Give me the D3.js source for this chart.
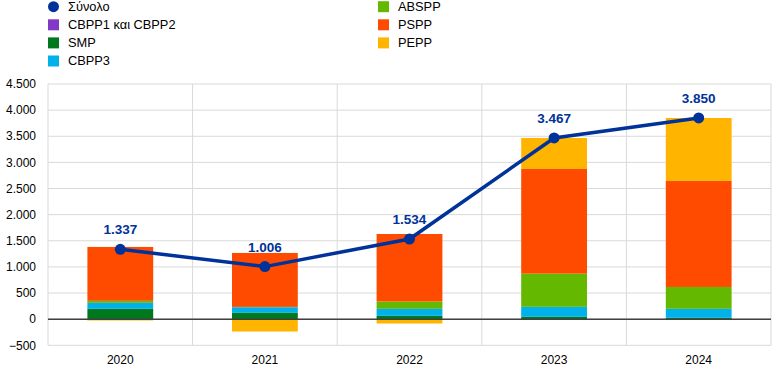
<!DOCTYPE html>
<html><head><meta charset="utf-8">
<script src="https://cdn.jsdelivr.net/npm/d3@7"></script>
<style>body{margin:0;background:#fff}svg{display:block;font-family:Arial,"Liberation Sans",sans-serif}</style>
</head><body><svg id="c" width="782" height="380"></svg>
<script>
const years = ["2020","2021","2022","2023","2024"];
const cbpp12 = [0, 0, 0, 0, 0];
const smp    = [198, 121, 64, 45, 26];
const cbpp3  = [115, 108, 134, 191, 172];
const abspp  = [38, 6, 140, 635, 418];
const pspp   = [1031, 1032, 1292, 2003, 2029];
const pepp   = [-25, -236, -83, 593, 1205];
const total  = [1337, 1006, 1534, 3467, 3850];
const yTicks = [-500, 0, 500, 1000, 1500, 2000, 2500, 3000, 3500, 4000, 4500];

const seriesNames = ["CBPP1 και CBPP2","SMP","CBPP3","ABSPP","PSPP","PEPP"];
const seriesVals = [cbpp12, smp, cbpp3, abspp, pspp, pepp];
const colors = ["#8139C6","#00781E","#00B1EA","#65B800","#FF4B00","#FFB400"];
const lineColor = "#003299";

const svg = d3.select("#c");
const L = 48, R = 771, T = 84, B = 345.3;
const x = d3.scaleBand().domain(years).range([L, R]).padding(0);
const y = d3.scaleLinear().domain([-500, 4500]).range([B, T]);
const fmt = v => d3.format(",")(v).replace(/,/g, ".");

// grid
const g = svg.append("g");
g.selectAll("line.h").data(yTicks).join("line")
  .attr("x1", L).attr("x2", R).attr("y1", d => y(d)).attr("y2", d => y(d))
  .attr("stroke", "#d9d9d9").attr("stroke-width", 1);
const vx = years.map(d => x(d)).concat([R]);
g.selectAll("line.v").data(vx).join("line")
  .attr("x1", d => d).attr("x2", d => d).attr("y1", T).attr("y2", B)
  .attr("stroke", "#d9d9d9").attr("stroke-width", 1);

// y labels
svg.append("g").selectAll("text").data(yTicks).join("text")
  .attr("x", 36).attr("y", d => y(d)).attr("dy", "0.35em")
  .attr("text-anchor", "end").attr("font-size", 12).attr("fill", "#000")
  .text(d => fmt(d));

// x labels
svg.append("g").selectAll("text").data(years).join("text")
  .attr("x", d => x(d) + x.bandwidth()/2).attr("y", 364)
  .attr("text-anchor", "middle").attr("font-size", 12).attr("fill", "#000")
  .text(d => d);

// stacked bars
const rows = years.map((yr, i) => {
  const o = {year: yr};
  seriesNames.forEach((s, k) => o[s] = seriesVals[k][i]);
  return o;
});
const stack = d3.stack().keys(seriesNames).offset(d3.stackOffsetDiverging)(rows);
const bw = x.bandwidth() * 0.455;
svg.append("g").selectAll("g").data(stack).join("g")
  .attr("fill", (d, i) => colors[i])
  .selectAll("rect").data(d => d).join("rect")
  .attr("x", d => x(d.data.year) + (x.bandwidth() - bw)/2)
  .attr("width", bw)
  .attr("y", d => y(Math.max(d[0], d[1])))
  .attr("height", d => Math.abs(y(d[0]) - y(d[1])));

// zero line
svg.append("line").attr("x1", L).attr("x2", R).attr("y1", y(0)).attr("y2", y(0))
  .attr("stroke", "#404040").attr("stroke-width", 1.5);

// total line
const cx = (d, i) => x(years[i]) + x.bandwidth()/2;
svg.append("path").datum(total)
  .attr("d", d3.line().x(cx).y(d => y(d)))
  .attr("fill", "none").attr("stroke", lineColor).attr("stroke-width", 3.5);
svg.append("g").selectAll("circle").data(total).join("circle")
  .attr("cx", cx).attr("cy", d => y(d)).attr("r", 5.5).attr("fill", lineColor);
svg.append("g").selectAll("text").data(total).join("text")
  .attr("x", cx).attr("y", d => y(d) - 15)
  .attr("text-anchor", "middle").attr("font-size", 13.5).attr("font-weight", "bold")
  .attr("fill", lineColor).text(d => fmt(d));

// legend
const leg = [
  {name: "Σύνολο", color: lineColor, circle: true, col: 0, row: 0},
  {name: seriesNames[0], color: colors[0], col: 0, row: 1},
  {name: seriesNames[1], color: colors[1], col: 0, row: 2},
  {name: seriesNames[2], color: colors[2], col: 0, row: 3},
  {name: seriesNames[3], color: colors[3], col: 1, row: 0},
  {name: seriesNames[4], color: colors[4], col: 1, row: 1},
  {name: seriesNames[5], color: colors[5], col: 1, row: 2}
];
const lg = svg.append("g").selectAll("g").data(leg).join("g")
  .attr("transform", d => `translate(${d.col ? 378 : 48},${6.7 + d.row * 18.1})`);
lg.filter(d => d.circle).append("circle").attr("cx", 5.5).attr("cy", 0).attr("r", 5.5).attr("fill", d => d.color);
lg.filter(d => !d.circle).append("rect").attr("x", 0).attr("y", -5.5).attr("width", 11).attr("height", 11).attr("fill", d => d.color);
lg.append("text").attr("x", 20).attr("y", 0).attr("dy", "0.35em").attr("font-size", 12.8).attr("fill", "#000").text(d => d.name);
</script></body></html>
